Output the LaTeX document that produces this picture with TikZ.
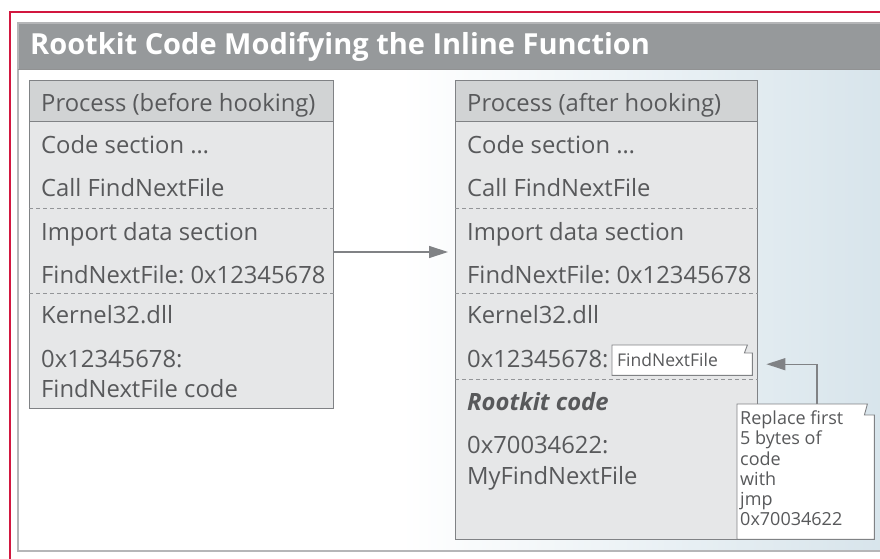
\documentclass[tikz,border=0pt]{standalone}
\usepackage{fontspec}
\setmainfont{Open Sans}
\usetikzlibrary{arrows.meta}
\frenchspacing
\definecolor{txt}{HTML}{58595B}
\definecolor{framered}{HTML}{D2173F}
\definecolor{panelgray}{HTML}{B5B6B8}
\definecolor{titlegray}{HTML}{96999B}
\definecolor{hdrfill}{HTML}{D1D3D4}
\definecolor{bodyfill}{HTML}{E6E7E8}
\definecolor{boxborder}{HTML}{808285}
\definecolor{sepgray}{HTML}{939598}
\definecolor{arrgray}{HTML}{808285}
\definecolor{bluebg}{HTML}{D7E4EB}
\begin{document}
\begin{tikzpicture}[x=1pt,y=-1pt,
  hdr/.style={draw=boxborder, fill=hdrfill, line width=0.9pt, inner sep=0, anchor=north west},
  bodybox/.style={draw=boxborder, fill=bodyfill, line width=0.9pt, inner sep=0, anchor=north west},
  lbl/.style={anchor=base west, inner sep=0, text=txt, font=\fontsize{23.8}{28}\selectfont\frenchspacing},
  sepline/.style={draw=sepgray, dash pattern=on 4pt off 3pt, line width=0.9pt},
  arr/.style={draw=arrgray, line width=1.3pt, -{Triangle[length=19pt,width=12pt]}},
  notebox/.style={draw=boxborder, fill=white, line width=0.9pt}
]
\useasboundingbox (0,0) rectangle (880,559);
\clip (0,0) rectangle (880,559);
\fill[white] (0,0) rectangle (880,559);
% content background
\shade[left color=white, right color=bluebg] (400,69) rectangle (890,551);
% title bar
\fill[titlegray] (18,23) rectangle (890,69);
\draw[panelgray, line width=1.2pt] (890,23) -- (18,23) -- (18,551) -- (890,551);
\draw[panelgray!80!black, line width=0.6pt] (18,69) -- (890,69);
\node[anchor=base west, inner sep=0, text=white, font=\fontsize{29}{34}\selectfont\bfseries] (title) at (30,55) {Rootkit Code Modifying the Inline Function};
% red frame
\draw[framered, line width=2.2pt] (10,600) -- (10,12) -- (900,12);

% left box
\node[bodybox, minimum width=304pt, minimum height=287pt] (lb) at (29,121) {};
\node[hdr, minimum width=304pt, minimum height=41pt] (lh) at (29,80) {};
\coordinate (ls1) at (0,208);
\coordinate (ls2) at (0,293);
\draw[sepline] (lb.west |- ls1) -- (lb.east |- ls1);
\draw[sepline] (lb.west |- ls2) -- (lb.east |- ls2);
\node[lbl] (l0) at (41,111.7) {Process (before hooking)};
\node[lbl] (l1) at (41,153) {Code section …};
\node[lbl] (l2) at (41,196.7) {Call FindNextFile};
\node[lbl] (l3) at (41,240) {Import data section};
\node[lbl] (l4) at (41,283) {FindNextFile: 0x12345678};
\node[lbl] (l5) at (41,323) {Kernel32.dll};
\node[lbl] (l6) at (41,367) {0x12345678:};
\node[lbl] (l7) at (41,397) {FindNextFile code};

% right box
\node[bodybox, minimum width=302pt, minimum height=418pt] (rb) at (455,121) {};
\node[hdr, minimum width=302pt, minimum height=41pt] (rh) at (455,80) {};
\coordinate (rs3) at (0,379);
\draw[sepline] (rb.west |- ls1) -- (rb.east |- ls1);
\draw[sepline] (rb.west |- ls2) -- (rb.east |- ls2);
\draw[sepline] (rb.west |- rs3) -- (rb.east |- rs3);
\node[lbl] (r0) at (467,111.7) {Process (after hooking)};
\node[lbl] (r1) at (467,153) {Code section …};
\node[lbl] (r2) at (467,196.7) {Call FindNextFile};
\node[lbl] (r3) at (467,240) {Import data section};
\node[lbl] (r4) at (467,283) {FindNextFile: 0x12345678};
\node[lbl] (r5) at (467,323) {Kernel32.dll};
\node[lbl] (r6) at (467,367) {0x12345678:};
\node[lbl, font=\fontsize{23.8}{28}\selectfont\bfseries\itshape] (r7) at (467,410) {Rootkit code};
\node[lbl] (r8) at (467,453) {0x70034622:};
\node[lbl] (r9) at (467,484) {MyFindNextFile};

% arrow between boxes
\coordinate (ay) at (0,252);
\draw[arr, shorten >=7pt] (lb.east |- ay) -- (rb.west |- ay);

% small note box
\node[anchor=north west, inner sep=0, minimum width=140pt, minimum height=30pt] (fn) at (612,345) {};
\draw[notebox] (fn.north west) -- ([xshift=-5pt]fn.north east) -- ([xshift=-8pt,yshift=-8pt]fn.north east) -- ([yshift=-8pt]fn.north east) -- (fn.south east) -- (fn.south west) -- cycle;
\node[anchor=base west, inner sep=0, text=txt, font=\fontsize{17.5}{20}\selectfont] (fntext) at (617,366) {FindNextFile};

% callout
\node[anchor=north west, inner sep=0, minimum width=137pt, minimum height=135pt] (co) at (737,404) {};
\draw[notebox] (co.north west) -- ([xshift=-7pt]co.north east) -- ([xshift=-10pt,yshift=-11pt]co.north east) -- ([yshift=-11pt]co.north east) -- (co.south east) -- (co.south west) -- cycle;
\node[anchor=north west, inner sep=0, text=txt, align=left, font=\fontsize{18}{20.3}\selectfont] (cotext) at (740,410.5) {Replace first\\5 bytes of\\code\\with\\jmp\\0x70034622};
\coordinate (cx) at (817,0);
\draw[arr] (co.north -| cx) |- ([xshift=14pt,yshift=-4pt]fn.east);
\end{tikzpicture}
\end{document}
